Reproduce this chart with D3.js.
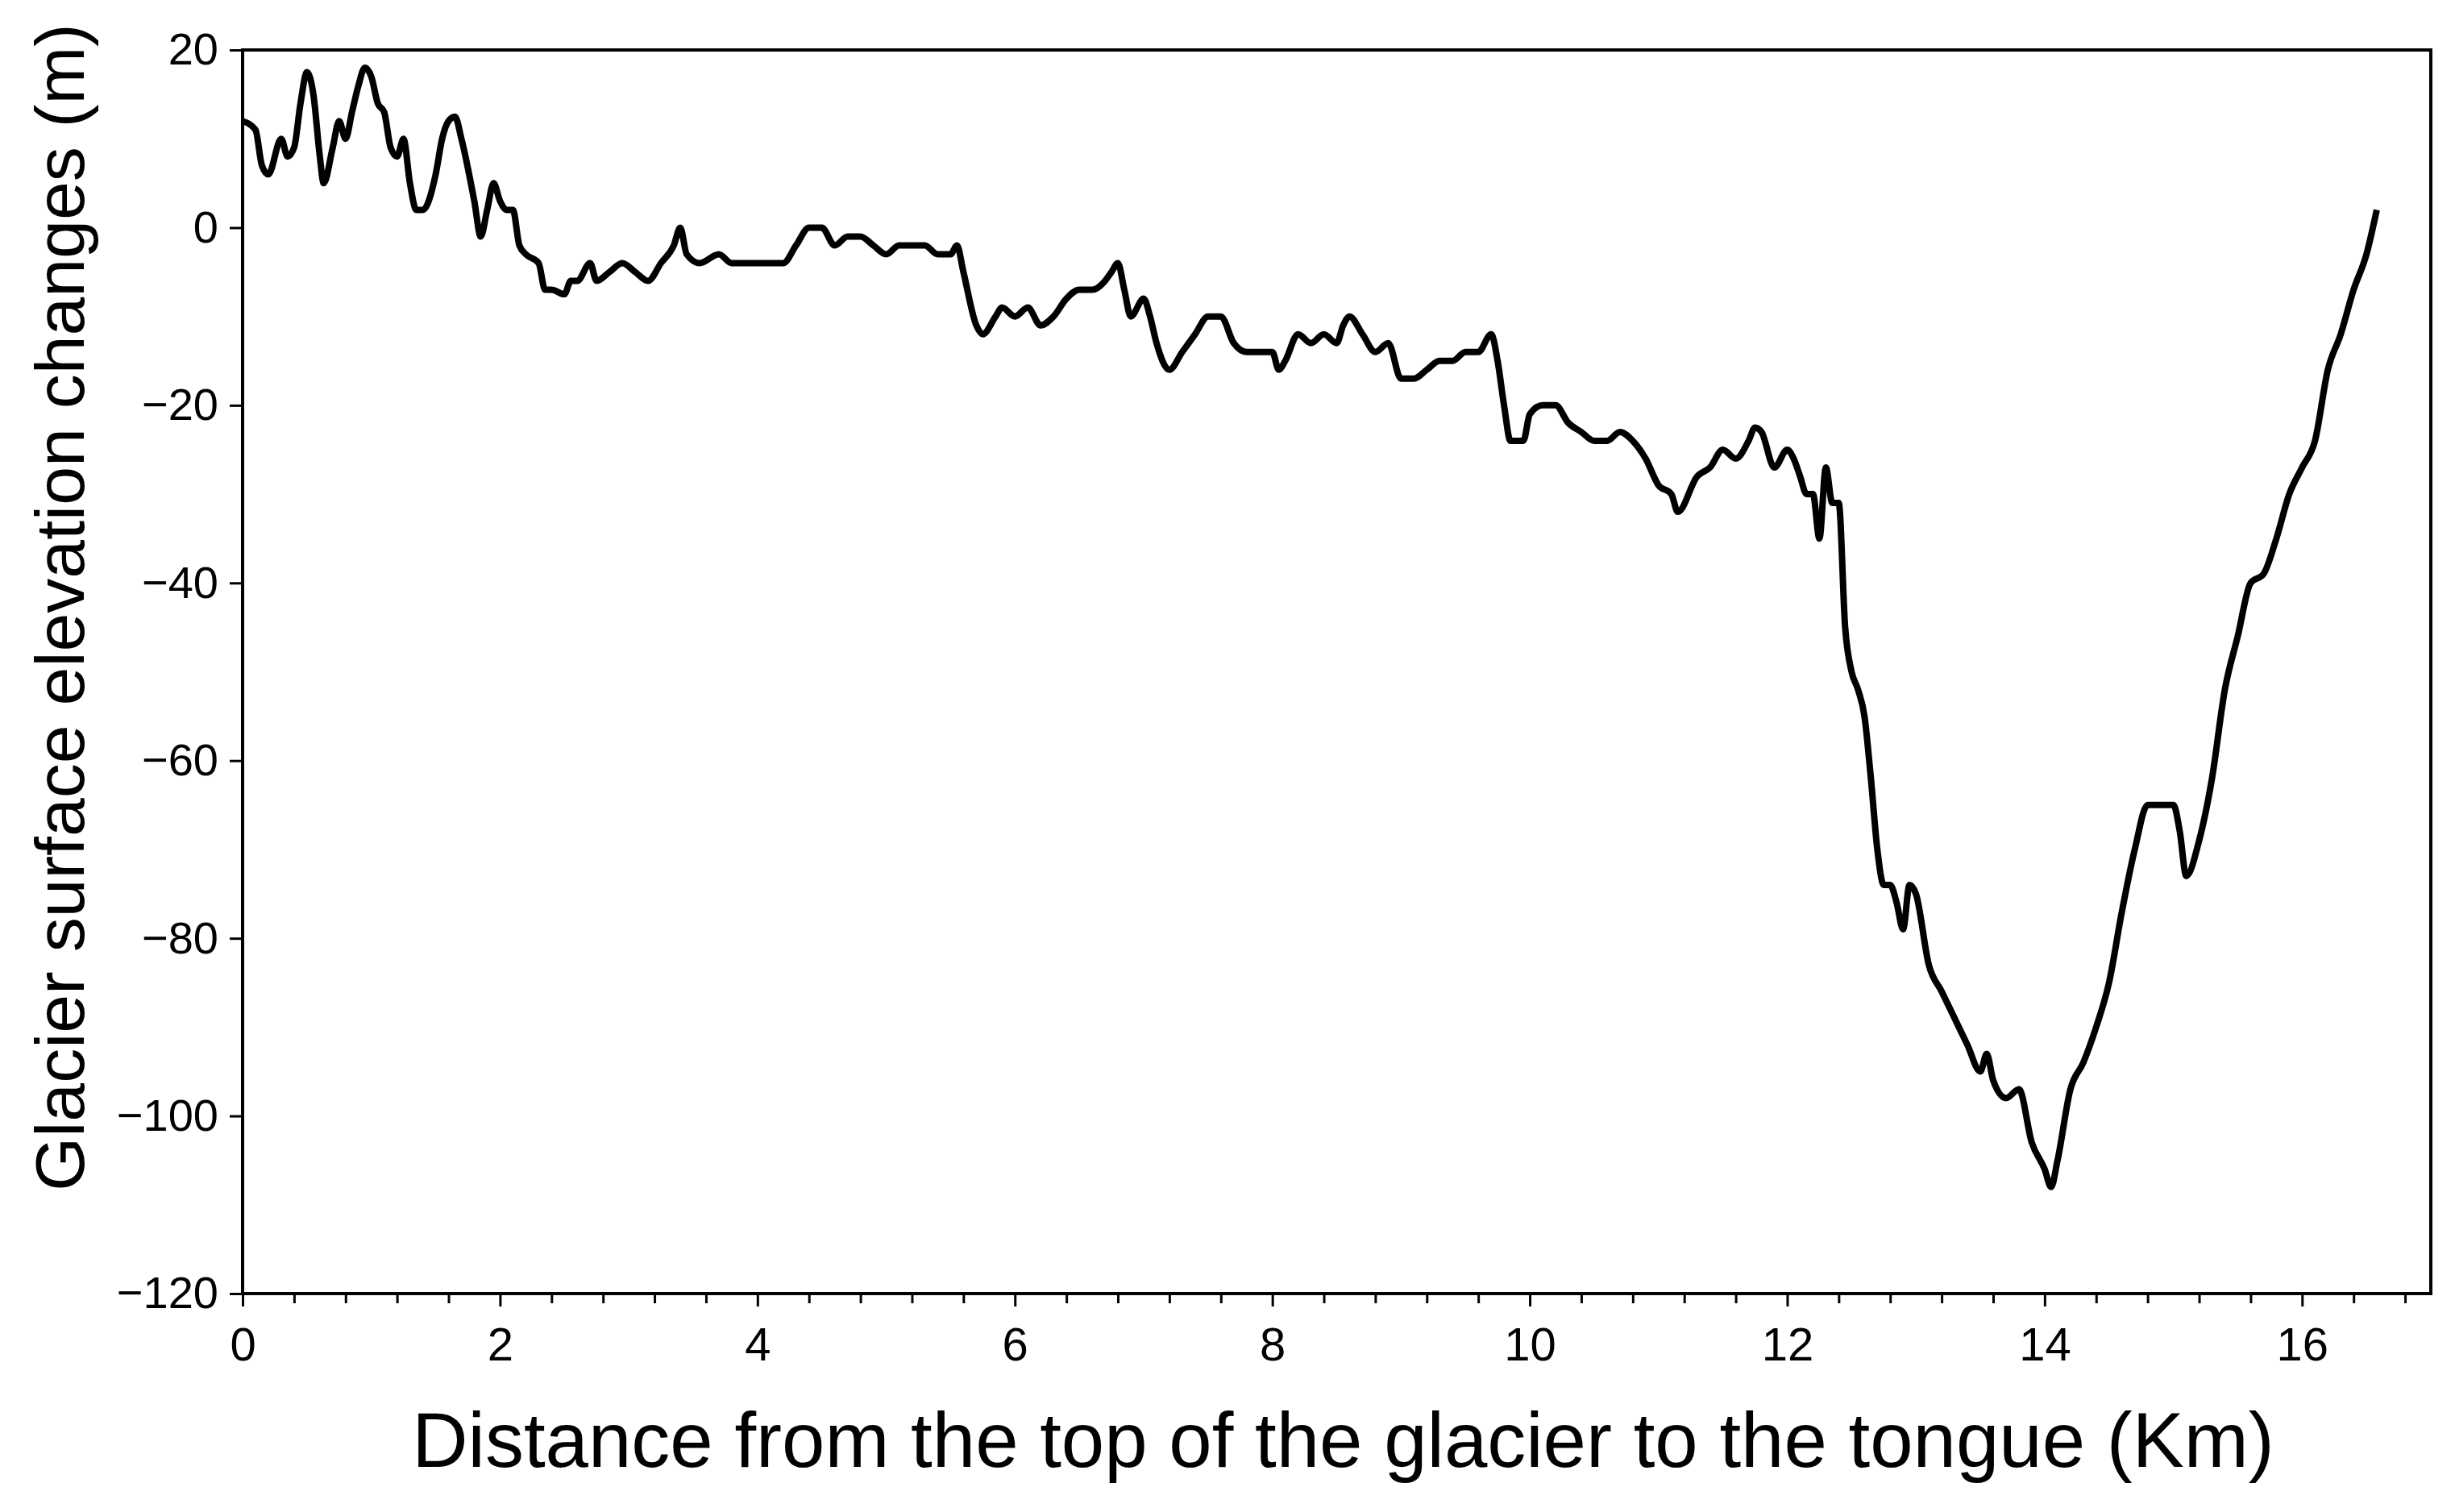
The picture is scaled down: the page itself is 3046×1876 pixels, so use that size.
<!DOCTYPE html>
<html>
<head>
<meta charset="utf-8">
<script src="https://cdn.jsdelivr.net/npm/d3@7"></script>
<style>
  body { margin: 0; background: #fff; }
  text { font-family: "Liberation Sans", Arial, sans-serif; fill: #000; }
</style>
</head>
<body>
<svg id="chart"></svg>
<script>
// distance (km) and elevation change (m)
const distance = [0,0.1,0.15,0.2,0.3,0.35,0.4,0.45,0.5,0.55,0.6,0.63,0.7,0.75,0.8,0.85,0.9,0.95,1.0,1.05,1.1,1.15,1.2,1.25,1.3,1.35,1.4,1.5,1.55,1.6,1.65,1.7,1.8,1.85,1.9,1.95,2.0,2.05,2.1,2.15,2.2,2.3,2.35,2.4,2.5,2.55,2.6,2.7,2.75,2.85,2.95,3.05,3.15,3.25,3.35,3.4,3.45,3.55,3.7,3.8,4.0,4.2,4.3,4.4,4.5,4.6,4.7,4.8,4.9,5.0,5.1,5.2,5.3,5.4,5.5,5.55,5.6,5.7,5.75,5.85,5.9,6.0,6.1,6.2,6.3,6.4,6.5,6.6,6.7,6.75,6.8,6.85,6.9,7.0,7.05,7.1,7.2,7.3,7.4,7.5,7.6,7.7,7.8,7.9,8.0,8.05,8.1,8.2,8.3,8.4,8.5,8.55,8.6,8.7,8.8,8.9,9.0,9.1,9.2,9.3,9.4,9.5,9.6,9.7,9.75,9.8,9.85,9.95,10.0,10.1,10.2,10.3,10.4,10.5,10.6,10.7,10.8,10.9,11.0,11.1,11.15,11.3,11.4,11.5,11.6,11.7,11.75,11.8,11.9,12.0,12.05,12.1,12.15,12.2,12.25,12.3,12.35,12.4,12.45,12.5,12.55,12.6,12.65,12.7,12.75,12.8,12.85,12.9,12.95,13.0,13.1,13.2,13.3,13.4,13.5,13.55,13.6,13.7,13.8,13.9,14.0,14.05,14.1,14.2,14.3,14.4,14.5,14.6,14.7,14.8,14.9,15.0,15.05,15.1,15.2,15.3,15.4,15.5,15.6,15.7,15.8,15.9,16.0,16.1,16.2,16.3,16.4,16.5,16.58];
const elevation = [12,11,7,6,10,8,9,14,17.5,15,8,5,9,12,10,13,16,18,17,14,13,9,8,10,5,2,2,6,10,12,12.5,10,3,-1,2,5,3,2,2,-2,-3,-4,-7,-7,-7.5,-6,-6,-4,-6,-5,-4,-5,-6,-4,-2,0,-3,-4,-3,-4,-4,-4,-2,0,0,-2,-1,-1,-2,-3,-2,-2,-2,-3,-3,-2,-5,-11,-12,-10,-9,-10,-9,-11,-10,-8,-7,-7,-6,-5,-4,-7,-10,-8,-10,-13,-16,-14,-12,-10,-10,-13,-14,-14,-14,-16,-15,-12,-13,-12,-13,-11,-10,-12,-14,-13,-17,-17,-16,-15,-15,-14,-14,-12,-15,-20,-24,-24,-21,-20,-20,-22,-23,-24,-24,-23,-24,-26,-29,-30,-32,-28,-27,-25,-26,-24,-22.5,-23,-27,-25,-26,-28,-30,-30,-35,-27,-31,-31,-45,-50,-52,-55,-62,-70,-74,-74,-76,-79,-74,-75,-83,-86,-89,-92,-95,-93,-96,-98,-97,-103,-106,-108,-105,-97,-94,-90,-85,-77,-70,-65,-65,-65,-68,-73,-69,-62,-52,-46,-40,-39,-35,-30,-27,-24,-16,-12,-7,-3,2];
const xTicks = [0,2,4,6,8,10,12,14,16];
const yTicks = [-120,-100,-80,-60,-40,-20,0,20];

const W = 3046, H = 1876;
const margin = { top: 62, right: 30, bottom: 271, left: 301 };
const width = W - margin.left - margin.right;
const height = H - margin.top - margin.bottom;

const svg = d3.select("#chart").attr("width", W).attr("height", H);
const g = svg.append("g").attr("transform", `translate(${margin.left},${margin.top})`);

const x = d3.scaleLinear().domain([0, 17]).range([0, width]);
const y = d3.scaleLinear().domain([-120, 20]).range([height, 0]);

// frame
g.append("rect").attr("width", width).attr("height", height)
  .attr("fill", "none").attr("stroke", "#000").attr("stroke-width", 4);

// minor x ticks every 0.4 km
const minor = d3.range(0, 17.01, 0.4).filter(v => Math.abs(v / 2 - Math.round(v / 2)) > 0.01);
g.append("g").attr("transform", `translate(0,${height})`)
  .call(d3.axisBottom(x).tickValues(minor).tickSize(12).tickFormat(""))
  .call(a => a.select(".domain").remove())
  .selectAll("line").attr("stroke-width", 3);

const xAxis = g.append("g").attr("transform", `translate(0,${height})`)
  .call(d3.axisBottom(x).tickValues(xTicks).tickSize(16).tickPadding(26).tickFormat(d3.format("d")));
xAxis.select(".domain").remove();
xAxis.selectAll("line").attr("stroke-width", 3);
xAxis.selectAll("text").style("font-size", "58px");

const yAxis = g.append("g")
  .call(d3.axisLeft(y).tickValues(yTicks).tickSize(16).tickPadding(14)
    .tickFormat(d => d < 0 ? "\u2212" + Math.abs(d) : d));
yAxis.select(".domain").remove();
yAxis.selectAll("line").attr("stroke-width", 3);
yAxis.selectAll("text").style("font-size", "56px");

const data = distance.map((d, i) => ({ d, e: elevation[i] }));
g.append("path").datum(data)
  .attr("fill", "none").attr("stroke", "#000").attr("stroke-width", 8)
  .attr("stroke-linejoin", "round")
  .attr("d", d3.line().x(p => x(p.d)).y(p => y(p.e)).curve(d3.curveMonotoneX));

svg.append("text").attr("x", margin.left + x(8.55)).attr("y", 1820)
  .attr("text-anchor", "middle").style("font-size", "96px")
  .text("Distance from the top of the glacier to the tongue (Km)");

svg.append("text")
  .attr("transform", `translate(104,${margin.top + height / 2 - 80}) rotate(-90)`)
  .attr("text-anchor", "middle").style("font-size", "86px")
  .text("Glacier surface elevation changes (m)");
</script>
</body>
</html>
